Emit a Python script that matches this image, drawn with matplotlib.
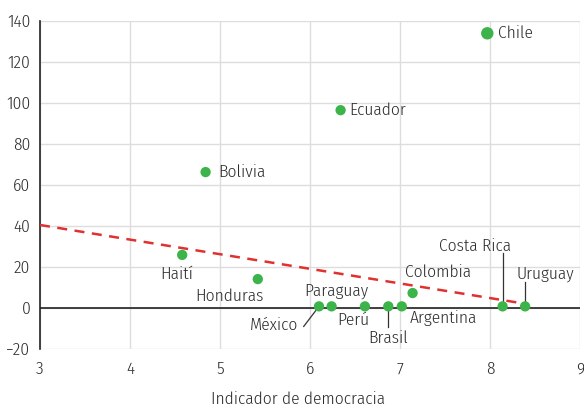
import matplotlib
matplotlib.use("Agg")
import matplotlib.pyplot as plt

# Data
countries = ["Chile", "Ecuador", "Bolivia", "Haití", "Honduras", "México", "Paraguay",
             "Perú", "Brasil", "Argentina", "Colombia", "Costa Rica", "Uruguay"]
democracy = [7.97, 6.34, 4.84, 4.58, 5.42, 6.10, 6.24, 6.61, 6.87, 7.02, 7.14, 8.14, 8.39]
values = [134, 96.5, 66.3, 25.9, 14.1, 0.8, 0.8, 0.8, 0.8, 0.8, 7.3, 0.8, 0.8]

trend_x = [3.0, 8.4]
trend_y = [40.5, 2.0]

x_ticks = [3, 4, 5, 6, 7, 8, 9]
y_ticks = [-20, 0, 20, 40, 60, 80, 100, 120, 140]

# label layout: (text x, text y, ha, leader line end or None)
label_layout = {
    "Chile": (8.09, 134, "left", None),
    "Ecuador": (6.44, 96.6, "left", None),
    "Bolivia": (4.98, 66.3, "left", None),
    "Haití": (4.52, 16.6, "center", None),
    "Honduras": (5.11, 5.9, "center", None),
    "México": (5.6, -8.6, "center", (5.93, -9.0)),
    "Paraguay": (6.29, 8.4, "center", None),
    "Perú": (6.48, -5.9, "center", None),
    "Brasil": (6.87, -14.6, "center", (6.87, -9.5)),
    "Argentina": (7.48, -4.9, "center", None),
    "Colombia": (7.42, 17.6, "center", None),
    "Costa Rica": (7.83, 30.2, "center", (8.14, 27.0)),
    "Uruguay": (8.62, 16.6, "center", (8.39, 12.7)),
}

plt.rcParams["font.family"] = ["Fira Sans Condensed", "DejaVu Sans"]
plt.rcParams["font.weight"] = 300

fig = plt.figure(figsize=(5.84, 4.09), dpi=100)
ax = fig.add_axes([40 / 584, 1 - 349 / 409, 540 / 584, 328 / 409])

green = "#3cb44a"
sizes = [80 if c == "Chile" else 55 for c in countries]
ax.scatter(democracy, values, s=sizes, color=green, zorder=4, linewidths=0)

ax.plot(trend_x, trend_y, color="#e0302f", lw=1.8, ls=(0, (4, 3)), zorder=3)
ax.axhline(0, color="#222222", lw=1.2, zorder=2)

for c, px, py in zip(countries, democracy, values):
    tx, ty, ha, lead = label_layout[c]
    ax.text(tx, ty, c, ha=ha, va="center", fontsize=12.5, color="#2b2b2b", zorder=5)
    if lead is not None:
        ax.plot([lead[0], px], [lead[1], py], color="#333333", lw=0.9, zorder=3)

ax.set_xlim(3, 9)
ax.set_ylim(-20, 140)
ax.set_xticks(x_ticks)
ax.set_yticks(y_ticks)
ax.grid(True, color="#dddddd", lw=1.0, zorder=0)
ax.set_axisbelow(True)

for side in ["top", "right", "bottom"]:
    ax.spines[side].set_visible(False)
ax.spines["left"].set_color("#222222")
ax.spines["left"].set_linewidth(1.2)

ax.tick_params(length=0, labelsize=12.5, colors="#2b2b2b", pad=7)
ax.tick_params(axis="x", pad=9)
ax.set_xlabel("Indicador de democracia", fontsize=12.5, fontweight=300, color="#2b2b2b")
ax.xaxis.set_label_coords(0.478, -0.13)

fig.savefig("out.png", dpi=100)
